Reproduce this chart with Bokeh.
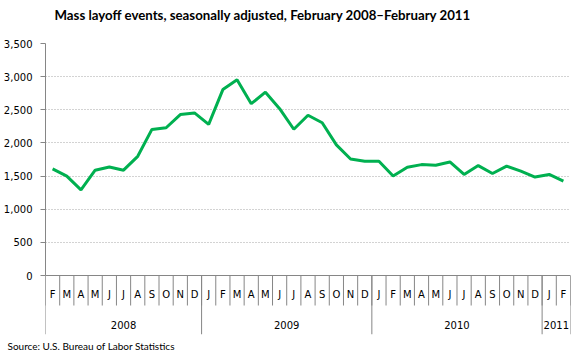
from bokeh.plotting import figure
from bokeh.models import Range1d, FixedTicker, NumeralTickFormatter, Title, Span
from bokeh.core.properties import value
from bokeh.embed import file_html
from bokeh.resources import INLINE

# ---- data ----
months = ["F", "M", "A", "M", "J", "J", "A", "S", "O", "N", "D",
          "J", "F", "M", "A", "M", "J", "J", "A", "S", "O", "N", "D",
          "J", "F", "M", "A", "M", "J", "J", "A", "S", "O", "N", "D",
          "J", "F"]
years = ["2008", "2009", "2010", "2011"]
months_per_year = [11, 12, 12, 2]
layoff_events = [1608, 1500, 1291, 1589, 1638, 1589, 1798, 2204, 2229, 2428, 2453,
                 2279, 2805, 2954, 2592, 2766, 2517, 2206, 2418, 2304, 1971, 1757, 1723,
                 1723, 1500, 1634, 1673, 1663, 1713, 1524, 1658, 1539, 1649, 1574, 1485,
                 1524, 1425]
y_ticks = [0, 500, 1000, 1500, 2000, 2500, 3000, 3500]
title_text = "Mass layoff events, seasonally adjusted, February 2008\u2013February 2011"
source_text = "Source: U.S. Bureau of Labor Statistics"

# ---- layout constants (pixels) ----
LEFT = 38
FRAME_W = 525
FRAME_H = 291
ZERO_PX = 232          # distance from frame top to the value 0
MONTH_SEP_PX = 30
YEAR_SEP_PX = 59
MONTH_LABEL_PX = 19
YEAR_LABEL_PX = 49

ymax = y_ticks[-1]
ppu = ZERO_PX / ymax
ymin = -(FRAME_H - ZERO_PX) / ppu

n = len(months)
idx = list(range(n))

p = figure(frame_width=FRAME_W, frame_height=FRAME_H,
           x_range=Range1d(-0.5, n - 0.5), y_range=Range1d(ymin, ymax),
           output_backend="svg", toolbar_location=None,
           min_border_left=LEFT, min_border_right=1, min_border_top=0, min_border_bottom=0)

p.title.text = title_text
p.title.align = "left"
p.title.offset = 9
p.title.vertical_align = "bottom"
p.title.text_font = "Lato"
p.title.text_font_size = "13.25px"
p.title.text_font_style = "bold"
p.title.text_color = "#000000"
p.title.standoff = 8

# blank spacer between title and plot area
p.add_layout(Title(text=" ", text_font_size="13px", standoff=0), "above")

p.add_layout(Title(text=source_text, align="left", offset=-LEFT, text_font="Lato",
                   text_font_size="10px", text_font_style="normal", text_color="#000000",
                   standoff=6), "below")

p.outline_line_color = None
p.background_fill_color = "white"
p.border_fill_color = "white"

p.xaxis.visible = False
p.xgrid.visible = False

yax = p.yaxis[0]
yax.ticker = FixedTicker(ticks=y_ticks)
yax.formatter = NumeralTickFormatter(format="0,0")
yax.bounds = (0, ymax)
yax.axis_line_color = "#868686"
yax.major_tick_line_color = "#868686"
yax.major_tick_out = 5
yax.major_tick_in = 0
yax.minor_tick_line_color = None
yax.major_label_standoff = 8
yax.major_label_text_font = "DejaVu Sans"
yax.major_label_text_font_size = "10px"
yax.major_label_text_color = "#000000"

p.ygrid.ticker = FixedTicker(ticks=y_ticks[1:])
p.ygrid.grid_line_color = "#a6a6a6"
p.ygrid.grid_line_dash = "1 2"
p.ygrid.grid_line_width = 1

# x axis baseline
p.add_layout(Span(location=0, dimension="width", line_color="#868686", line_width=1))

# month separators
month_sep_y = -MONTH_SEP_PX / ppu
p.segment(x0=[i - 0.5 for i in range(n + 1)], y0=[0] * (n + 1),
          x1=[i - 0.5 for i in range(n + 1)], y1=[month_sep_y] * (n + 1),
          line_color="#868686", line_width=1)

# year separators and labels
year_sep_y = -YEAR_SEP_PX / ppu
bounds = [0]
for c in months_per_year:
    bounds.append(bounds[-1] + c)
p.segment(x0=[b - 0.5 for b in bounds], y0=[0] * len(bounds),
          x1=[b - 0.5 for b in bounds], y1=[year_sep_y] * len(bounds),
          line_color="#868686", line_width=1)

year_centers = [(bounds[k] + bounds[k + 1] - 1) / 2 for k in range(len(years))]
p.text(x=year_centers, y=[0] * len(years), text=years, y_offset=YEAR_LABEL_PX,
       text_align="center", text_baseline="middle", text_font=value("DejaVu Sans"),
       text_font_size="10px", text_color="#000000")

p.text(x=idx, y=[0] * n, text=months, y_offset=MONTH_LABEL_PX,
       text_align="center", text_baseline="middle", text_font=value("DejaVu Sans"),
       text_font_size="10px", text_color="#000000")

# data line
p.line(x=idx, y=layoff_events, line_color="#00b050", line_width=3)

open("out.html", "w").write(file_html(p, INLINE))
